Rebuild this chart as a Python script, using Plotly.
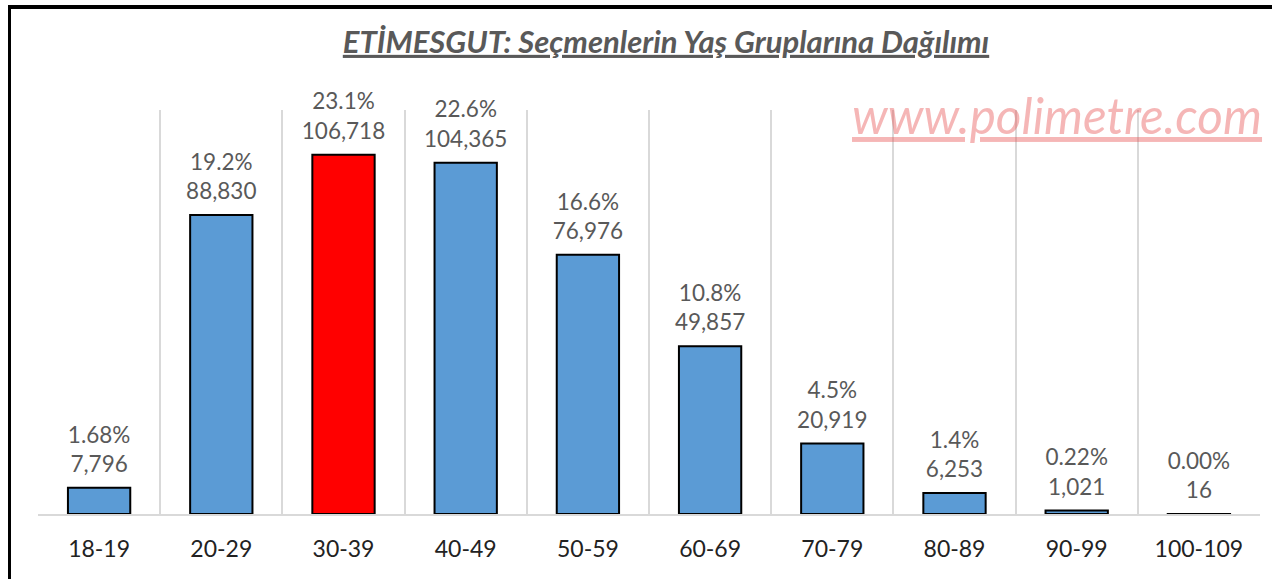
import plotly.graph_objects as go

categories = ["18-19", "20-29", "30-39", "40-49", "50-59", "60-69", "70-79", "80-89", "90-99", "100-109"]
voters = [7796, 88830, 106718, 104365, 76976, 49857, 20919, 6253, 1021, 16]
percent_labels = ["1.68%", "19.2%", "23.1%", "22.6%", "16.6%", "10.8%", "4.5%", "1.4%", "0.22%", "0.00%"]
highlight = "30-39"

W, H = 1272, 579
L, R, T, B = 38, 12, 110, 65
FONT = "Lato, Liberation Sans, sans-serif"

colors = ["#FF0000" if c == highlight else "#5B9BD5" for c in categories]

fig = go.Figure()
fig.add_trace(go.Bar(
    x=categories,
    y=voters,
    marker=dict(color=colors, line=dict(color="#000000", width=2)),
    width=0.51,
    hoverinfo="skip",
))
fig.add_trace(go.Scatter(
    x=categories,
    y=voters,
    customdata=percent_labels,
    mode="markers+text",
    texttemplate="%{customdata}<br>%{y:,}",
    textposition="top center",
    textfont=dict(family=FONT, size=22.5, color="#595959"),
    marker=dict(size=15, opacity=0),
    cliponaxis=False,
    hoverinfo="skip",
))

def px_x(p):
    return (p - L) / (W - L - R)

def px_y(p):
    return (H - B - p) / (H - T - B)

fig.update_layout(
    width=W, height=H,
    margin=dict(l=L, r=R, t=T, b=B),
    paper_bgcolor="white", plot_bgcolor="white",
    showlegend=False,
    title=dict(
        text="<b><i><u>ETİMESGUT: Seçmenlerin Yaş Gruplarına Dağılımı</u></i></b>",
        x=666 / W, xanchor="center", y=1 - 42 / H, yanchor="middle",
        font=dict(family=FONT, size=31, color="#595959"),
    ),
    xaxis=dict(
        type="category", tickson="boundaries", showgrid=True,
        range=[-0.5, len(categories) - 0.5], autorange=False,
        gridcolor="#D9D9D9", gridwidth=1.5, ticks="",
        showline=True, linecolor="#D9D9D9", linewidth=2,
        tickfont=dict(family=FONT, size=23, color="#222222"),
        ticklabelstandoff=13,
        fixedrange=True,
    ),
    yaxis=dict(range=[0, 120000], showgrid=False, showticklabels=False,
               zeroline=False, showline=False, ticks="", fixedrange=True),
    bargap=0.49,
    shapes=[
        dict(type="line", xref="paper", yref="paper", x0=px_x(8), x1=px_x(1290),
             y0=px_y(7), y1=px_y(7), line=dict(color="black", width=4),
             layer="above"),
        dict(type="line", xref="paper", yref="paper", x0=px_x(9.5), x1=px_x(9.5),
             y0=px_y(5), y1=px_y(600), line=dict(color="black", width=3),
             layer="above"),
    ],
    annotations=[
        dict(text="<i><u>www.polimetre.com</u></i>", xref="paper", yref="paper",
             x=px_x(1264), xanchor="right", y=px_y(115), yanchor="middle",
             showarrow=False,
             font=dict(family=FONT, size=49.5, color="rgba(232,80,80,0.42)")),
    ],
)

fig.write_html("out.html", config={"displayModeBar": False},
               post_script="document.body.style.margin='0';")
